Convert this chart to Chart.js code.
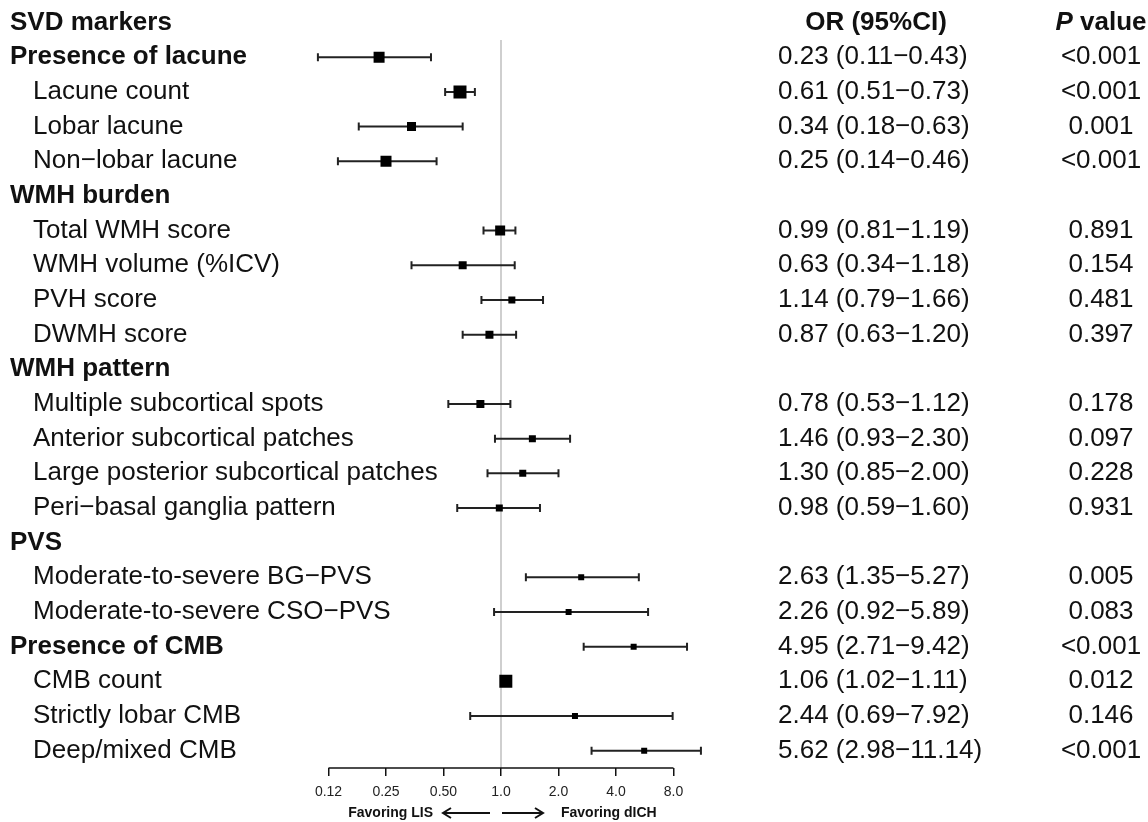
<!DOCTYPE html>
<html>
<head>
<meta charset="utf-8">
<script src="https://cdn.jsdelivr.net/npm/chart.js@4/dist/chart.umd.min.js"></script>
<style>
  html, body { margin: 0; padding: 0; background: #fff; }
  canvas { display: block; }
</style>
</head>
<body>
<canvas id="stage" width="1148" height="822"></canvas>
<script>
// rows of the forest plot (row 0 is the header)
const rowLabels = [
  'Presence of lacune', 'Lacune count', 'Lobar lacune', 'Non\u2212lobar lacune',
  'WMH burden', 'Total WMH score', 'WMH volume (%ICV)', 'PVH score', 'DWMH score',
  'WMH pattern', 'Multiple subcortical spots', 'Anterior subcortical patches',
  'Large posterior subcortical patches', 'Peri\u2212basal ganglia pattern',
  'PVS', 'Moderate-to-severe BG\u2212PVS', 'Moderate-to-severe CSO\u2212PVS',
  'Presence of CMB', 'CMB count', 'Strictly lobar CMB', 'Deep/mixed CMB'
];
const isGroup = [1,0,0,0, 1,0,0,0,0, 1,0,0,0,0, 1,0,0, 1,0,0,0];

const orVals = [0.23, 0.61, 0.34, 0.25, null, 0.99, 0.63, 1.14, 0.87, null, 0.78, 1.46, 1.30, 0.98, null, 2.63, 2.26, 4.95, 1.06, 2.44, 5.62];
const ciLow  = [0.11, 0.51, 0.18, 0.14, null, 0.81, 0.34, 0.79, 0.63, null, 0.53, 0.93, 0.85, 0.59, null, 1.35, 0.92, 2.71, 1.02, 0.69, 2.98];
const ciHigh = [0.43, 0.73, 0.63, 0.46, null, 1.19, 1.18, 1.66, 1.20, null, 1.12, 2.30, 2.00, 1.60, null, 5.27, 5.89, 9.42, 1.11, 7.92, 11.14];
const pVals  = ['<0.001', '<0.001', '0.001', '<0.001', null, '0.891', '0.154', '0.481', '0.397', null, '0.178', '0.097', '0.228', '0.931', null, '0.005', '0.083', '<0.001', '0.012', '0.146', '<0.001'];

const tickVals = [0.125, 0.25, 0.5, 1, 2, 4, 8];
const tickLabels = ['0.12', '0.25', '0.50', '1.0', '2.0', '4.0', '8.0'];

// styles
const FONT = '"Liberation Sans", Arial, Helvetica, sans-serif';
const boxSide = [11, 13, 9, 11, 0, 10, 8, 7, 8, 0, 8, 7, 7, 7, 0, 6, 6, 6, 13, 6, 6];
const inkCol = '#111';
const ciCol = '#222';

const rowsWithData = orVals.map((v, i) => i).filter(i => orVals[i] != null);

const markerSet = {
  data: rowsWithData.map(i => ({ x: orVals[i], y: i + 1 })),
  pointStyle: 'rect',
  pointRadius: rowsWithData.map(i => boxSide[i] / Math.SQRT2),
  backgroundColor: '#000',
  borderWidth: 0,
  order: 0
};

const capSet = {
  data: rowsWithData.flatMap(i => [{ x: ciLow[i], y: i + 1 }, { x: ciHigh[i], y: i + 1 }]),
  pointStyle: 'line',
  rotation: 90,
  pointRadius: 4,
  borderColor: ciCol,
  borderWidth: 2,
  order: 1
};

const ciSets = rowsWithData.map(i => ({
  data: [{ x: ciLow[i], y: i + 1 }, { x: ciHigh[i], y: i + 1 }],
  showLine: true,
  borderColor: ciCol,
  borderWidth: 2,
  pointRadius: 0,
  order: 2
}));

const refSet = {
  data: [{ x: 1, y: 0.5 }, { x: 1, y: 21.5 }],
  showLine: true,
  borderColor: '#cfcfcf',
  borderWidth: 2,
  pointRadius: 0,
  order: 3
};

const textPlugin = {
  id: 'forestText',
  afterDraw(chart) {
    const { ctx, scales: { x, y }, chartArea } = chart;
    ctx.save();
    ctx.fillStyle = inkCol;
    ctx.strokeStyle = inkCol;
    ctx.textBaseline = 'middle';

    // header row
    const hy = y.getPixelForValue(0);
    ctx.font = 'bold 26px ' + FONT;
    ctx.textAlign = 'left';
    ctx.fillText('SVD markers', 10, hy);
    ctx.textAlign = 'center';
    ctx.fillText('OR (95%CI)', 876, hy);
    ctx.font = 'italic bold 26px ' + FONT;
    const wP = ctx.measureText('P').width;
    ctx.font = 'bold 26px ' + FONT;
    const wV = ctx.measureText(' value').width;
    const startP = 1101 - (wP + wV) / 2;
    ctx.textAlign = 'left';
    ctx.font = 'italic bold 26px ' + FONT;
    ctx.fillText('P', startP, hy);
    ctx.font = 'bold 26px ' + FONT;
    ctx.fillText(' value', startP + wP, hy);

    // rows
    rowLabels.forEach((lab, i) => {
      const py = y.getPixelForValue(i + 1);
      ctx.textAlign = 'left';
      ctx.font = (isGroup[i] ? 'bold ' : '') + '26px ' + FONT;
      ctx.fillText(lab, isGroup[i] ? 10 : 33, py);
      if (orVals[i] != null) {
        ctx.font = '26px ' + FONT;
        const txt = orVals[i].toFixed(2) + ' (' + ciLow[i].toFixed(2) + '\u2212' + ciHigh[i].toFixed(2) + ')';
        ctx.fillText(txt, 778, py);
        ctx.textAlign = 'center';
        ctx.fillText(pVals[i], 1101, py);
      }
    });

    // axis line only over the ticked range
    const ay = chartArea.bottom;
    ctx.lineWidth = 1.5;
    ctx.beginPath();
    ctx.moveTo(x.getPixelForValue(tickVals[0]), ay);
    ctx.lineTo(x.getPixelForValue(tickVals[tickVals.length - 1]), ay);
    ctx.stroke();

    // favoring arrows
    const x1 = x.getPixelForValue(1);
    const fy = 813;
    ctx.lineWidth = 2;
    ctx.beginPath();
    ctx.moveTo(x1 - 11, fy); ctx.lineTo(x1 - 58, fy);
    ctx.moveTo(x1 - 50, fy - 5); ctx.lineTo(x1 - 58, fy); ctx.lineTo(x1 - 50, fy + 5);
    ctx.moveTo(x1 + 1, fy); ctx.lineTo(x1 + 42, fy);
    ctx.moveTo(x1 + 34, fy - 5); ctx.lineTo(x1 + 42, fy); ctx.lineTo(x1 + 34, fy + 5);
    ctx.stroke();
    ctx.font = 'bold 14px ' + FONT;
    ctx.textAlign = 'right';
    ctx.fillText('Favoring LIS', x1 - 68, fy);
    ctx.textAlign = 'left';
    ctx.fillText('Favoring dICH', x1 + 60, fy);
    ctx.restore();
  }
};

new Chart(document.getElementById('stage'), {
  type: 'scatter',
  data: { datasets: [markerSet, capSet, ...ciSets, refSet] },
  options: {
    responsive: false,
    animation: false,
    events: [],
    layout: { padding: { left: 310, right: 440.9, top: 22.6, bottom: 0 } },
    plugins: { legend: { display: false }, tooltip: { enabled: false } },
    scales: {
      x: {
        type: 'logarithmic',
        min: 0.1,
        max: 12,
        afterBuildTicks: axis => { axis.ticks = tickVals.map(v => ({ value: v })); },
        afterFit: axis => { axis.height = 54; },
        ticks: {
          autoSkip: false,
          maxRotation: 0,
          padding: 8,
          color: '#222',
          font: { family: FONT, size: 14 },
          callback: (v, i) => tickLabels[i]
        },
        grid: { drawOnChartArea: false, tickLength: 8, color: inkCol, lineWidth: 1.5 },
        border: { display: false }
      },
      y: { type: 'linear', reverse: true, min: 0, max: 21.5, display: false }
    }
  },
  plugins: [textPlugin]
});
</script>
</body>
</html>
